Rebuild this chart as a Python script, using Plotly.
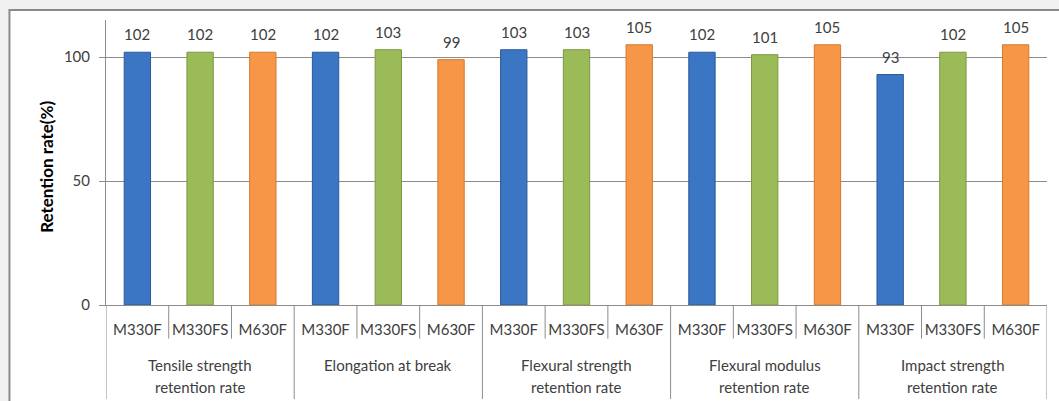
import plotly.graph_objects as go

# Property groups (two-line labels) and materials tested in each group
groups = [
    "Tensile strength<br>retention rate",
    "Elongation at break",
    "Flexural strength<br>retention rate",
    "Flexural modulus<br>retention rate",
    "Impact strength<br>retention rate",
]
materials = ["M330F", "M330FS", "M630F"]

# Retention rate (%) per material, one value per property group
m330f = [102, 102, 103, 102, 93]
m330fs = [102, 103, 103, 101, 102]
m630f = [102, 99, 105, 105, 105]

series = {"M330F": m330f, "M330FS": m330fs, "M630F": m630f}
colors = {"M330F": "#3a76c4", "M330FS": "#9bbb59", "M630F": "#f79646"}
edges = {"M330F": "#2a5a98", "M330FS": "#7a9a40", "M630F": "#d27a30"}

y_ticks = [0, 50, 100]

n_groups = len(groups)
n_mat = len(materials)
font_family = "Lato, 'Open Sans', sans-serif"
text_color = "#404040"
line_color = "#8c8c8c"
fs = 15

fig = go.Figure()
annotations = []
for j, mat in enumerate(materials):
    xs = [g * n_mat + j for g in range(n_groups)]
    vals = series[mat]
    fig.add_trace(go.Bar(
        x=xs, y=vals, name=mat, width=0.42,
        marker=dict(color=colors[mat], line=dict(color=edges[mat], width=1)),
        showlegend=False,
    ))
    for x, v in zip(xs, vals):
        annotations.append(dict(
            x=x, y=v, xref="x", yref="y", text=str(v), showarrow=False,
            yanchor="bottom", yshift=7,
            font=dict(family=font_family, size=fs, color=text_color),
        ))

# Group labels under the material labels, one annotation per text line
group_mid = -0.249
half_gap = 0.0386
for g, name in enumerate(groups):
    lines = name.split("<br>")
    if len(lines) == 1:
        centers = [group_mid + half_gap]
    else:
        centers = [group_mid + half_gap, group_mid - half_gap]
    for line, yc in zip(lines, centers):
        annotations.append(dict(
            x=g * n_mat + 1, y=yc, xref="x", yref="paper", text=line,
            showarrow=False, yanchor="middle", align="center",
            font=dict(family=font_family, size=fs, color=text_color),
        ))

# Axis title
annotations.append(dict(
    x=-0.064, y=0.484, xref="paper", yref="paper", text="<b>Retention rate(%)</b>",
    showarrow=False, textangle=-90, xanchor="center", yanchor="middle",
    font=dict(family=font_family, size=17, color="#000000"),
))

shapes = []
# White chart panel with grey frame on the light grey page
shapes.append(dict(
    type="rect", xref="paper", yref="paper",
    x0=-0.1026, x1=1.02, y0=-0.36, y1=1.035,
    fillcolor="white", line=dict(color="#8a8a8a", width=2), layer="below",
))
# Separator lines between category labels
total = n_groups * n_mat
for k in range(total + 1):
    xb = k - 0.5
    is_group_edge = (k % n_mat == 0)
    shapes.append(dict(
        type="line", xref="x", yref="paper",
        x0=xb, x1=xb, y0=0, y1=-0.33 if is_group_edge else -0.118,
        line=dict(color=line_color, width=1),
    ))

fig.update_layout(
    width=1059, height=401,
    margin=dict(l=106, r=12, t=20, b=96),
    paper_bgcolor="#f1f1f1",
    plot_bgcolor="white",
    bargap=0.58,
    font=dict(family=font_family, size=fs, color=text_color),
    xaxis=dict(
        range=[-0.5, total - 0.5],
        tickmode="array",
        tickvals=list(range(total)),
        ticktext=[materials[k % n_mat] for k in range(total)],
        ticks="outside", ticklen=11, tickcolor="rgba(0,0,0,0)",
        showgrid=False, zeroline=False,
        showline=True, linecolor=line_color, linewidth=1,
        tickfont=dict(family=font_family, size=fs, color=text_color),
        fixedrange=True,
    ),
    yaxis=dict(
        range=[0, 115],
        tickmode="array", tickvals=y_ticks,
        ticks="outside", ticklen=6, tickcolor=line_color,
        ticklabelstandoff=6,
        showgrid=True, gridcolor=line_color, gridwidth=1,
        zeroline=False,
        showline=True, linecolor=line_color, linewidth=1,
        tickfont=dict(family=font_family, size=fs, color=text_color),
        fixedrange=True,
    ),
    annotations=annotations,
    shapes=shapes,
)

fig.write_html("out.html")
